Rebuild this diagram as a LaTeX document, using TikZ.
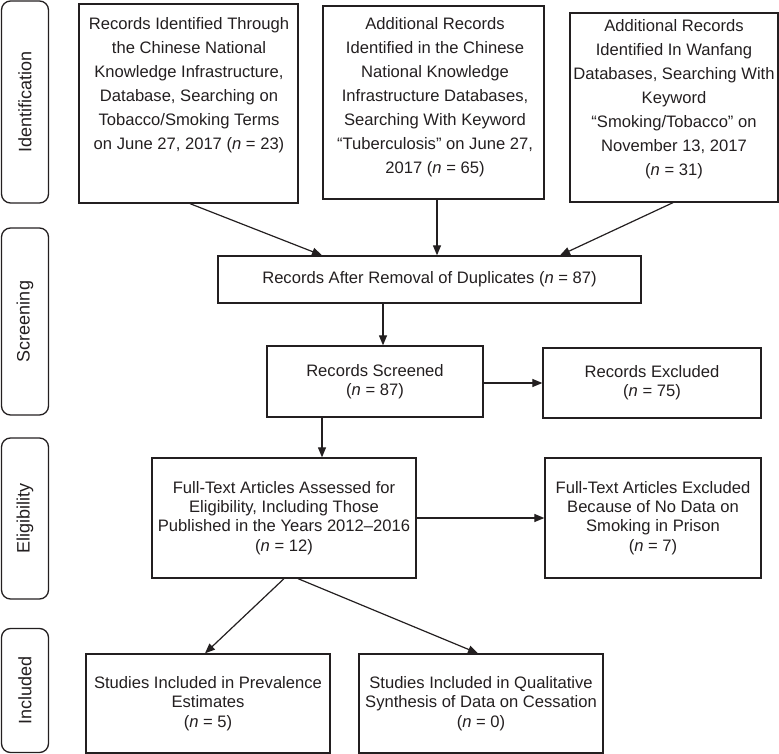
\documentclass[tikz,border=0pt]{standalone}
\usepackage{graphicx}
\usepackage{fontspec}
\setmainfont{Liberation Sans}
\usetikzlibrary{arrows.meta,calc}
\definecolor{ink}{HTML}{231F20}
\begin{document}
\begin{tikzpicture}[x=1pt,y=-1pt,
  box/.style={draw=ink, line width=1.3pt, inner sep=0pt, text=ink, align=center,
    font=\fontsize{16.6}{19.3}\selectfont},
  toptxt/.style={text=ink, align=center, inner sep=0pt,
    font=\fontsize{16.6}{24}\selectfont},
  phase/.style={draw=ink, line width=1.3pt, rounded corners=9pt, minimum width=47pt,
    inner sep=0pt, text=ink, font=\fontsize{18}{20}\selectfont},
  arr/.style={draw=ink, line width=1.2pt, -{Triangle[length=10pt,width=8pt]}}]
\useasboundingbox (0,0) rectangle (779,754);

% phase labels
\node[phase, minimum height=202pt] (pid) at (25,102) {\rotatebox{90}{Identification}};
\node[phase, minimum height=187pt] (psc) at (25,321.5) {\rotatebox{90}{Screening}};
\node[phase, minimum height=161pt] (pel) at (25,518.5) {\rotatebox{90}{Eligibility}};
\node[phase, minimum height=124pt] (pin) at (25,690.5) {\rotatebox{90}{Included}};

% top boxes
\node[box, minimum width=219pt, minimum height=199pt] (b1) at (188.5,103.5) {};
\node[toptxt] (t1) at (189,85) {Records Identified Through\\
the Chinese National\\
Knowledge Infrastructure,\\
Database, Searching on\\
Tobacco/Smoking Terms\\
on June 27, 2017 (\textit{n} = 23)};

\node[box, minimum width=221pt, minimum height=193pt] (b2) at (433.5,102.5) {};
\node[toptxt] (t2) at (435,97.5) {Additional Records\\
Identified in the Chinese\\
National Knowledge\\
Infrastructure Databases,\\
Searching With Keyword\\
“Tuberculosis” on June 27,\\
2017 (\textit{n} = 65)};

\node[box, minimum width=208pt, minimum height=189pt] (b3) at (674,107.5) {};
\node[toptxt] (t3) at (674,99) {Additional Records\\
Identified In Wanfang\\
Databases, Searching With\\
Keyword\\
“Smoking/Tobacco” on\\
November 13, 2017\\
(\textit{n} = 31)};

% main flow
\node[box, minimum width=423pt, minimum height=47pt] (rem) at (429.5,279.5)
  {Records After Removal of Duplicates (\textit{n} = 87)};
\node[box, minimum width=216pt, minimum height=71pt] (scr) at (375,381.5)
  {Records Screened\\(\textit{n} = 87)};
\node[box, minimum width=218pt, minimum height=70pt] (exc) at (652,383)
  {Records Excluded\\(\textit{n} = 75)};
\node[box, minimum width=264pt, minimum height=120pt] (ft) at (284,518)
  {Full-Text Articles Assessed for\\Eligibility, Including Those\\Published in the Years 2012–2016\\(\textit{n} = 12)};
\node[box, minimum width=216pt, minimum height=120pt] (fte) at (653,518)
  {Full-Text Articles Excluded\\Because of No Data on\\Smoking in Prison\\(\textit{n} = 7)};
\node[box, minimum width=244pt, minimum height=99pt] (prev) at (208,703.5)
  {Studies Included in Prevalence\\Estimates\\(\textit{n} = 5)};
\node[box, minimum width=244pt, minimum height=99pt] (qual) at (481,703.5)
  {Studies Included in Qualitative\\Synthesis of Data on Cessation\\(\textit{n} = 0)};

% connectors
\draw[arr] ([xshift=1.5pt]b1.south) -- ([xshift=-107.5pt]rem.north);
\draw[arr] ([xshift=3.5pt]b2.south) -- ([xshift=7.5pt]rem.north);
\draw[arr] ([xshift=-1pt]b3.south) -- ([xshift=130.5pt]rem.north);
\draw[arr] ([xshift=-46.5pt]rem.south) -- ([xshift=8pt]scr.north);
\draw[arr] (scr.east |- exc.west) -- (exc.west);
\draw[arr] ([xshift=-53pt]scr.south) -- ([xshift=38pt]ft.north);
\draw[arr] (ft.east) -- (fte.west);
\draw[arr] (ft.south) -- ([xshift=-3pt]prev.north);
\draw[arr] ([xshift=14pt]ft.south) -- ([xshift=-3pt]qual.north);
\end{tikzpicture}
\end{document}
